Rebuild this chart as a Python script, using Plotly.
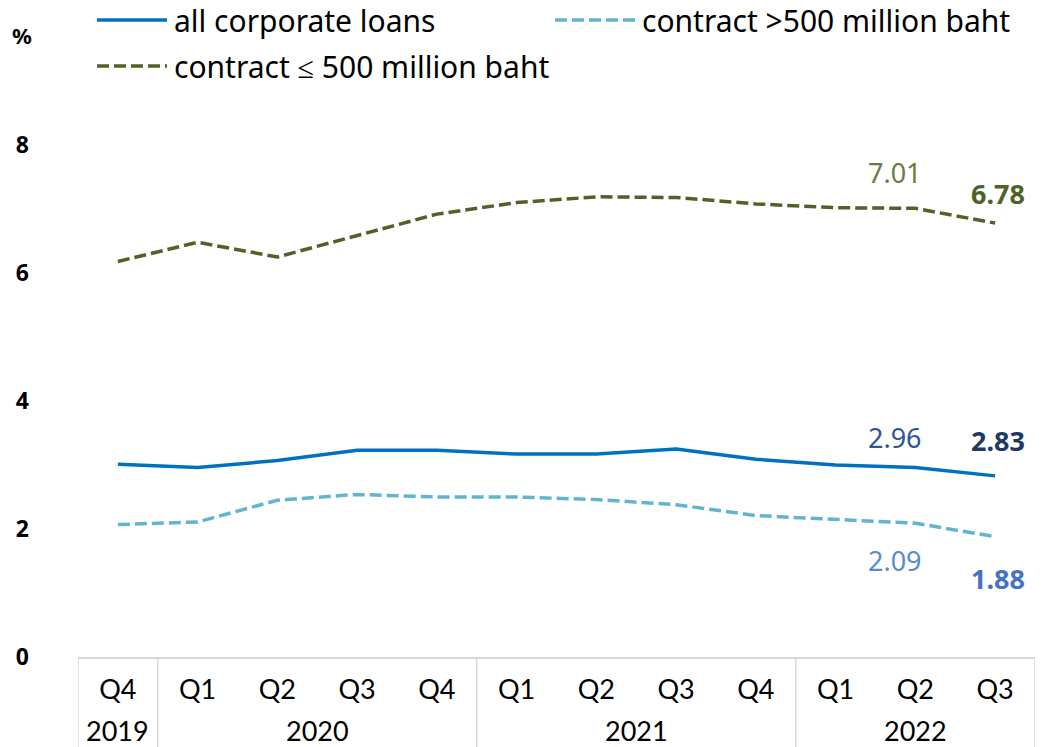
import plotly.graph_objects as go

years = ["2019", "2020", "2020", "2020", "2020", "2021", "2021", "2021", "2021", "2022", "2022", "2022"]
quarters = ["Q4", "Q1", "Q2", "Q3", "Q4", "Q1", "Q2", "Q3", "Q4", "Q1", "Q2", "Q3"]

all_loans = [3.01, 2.96, 3.07, 3.23, 3.23, 3.17, 3.17, 3.25, 3.09, 3.00, 2.96, 2.83]
large = [2.07, 2.11, 2.45, 2.54, 2.50, 2.50, 2.46, 2.38, 2.21, 2.15, 2.09, 1.88]
small = [6.18, 6.48, 6.25, 6.59, 6.92, 7.10, 7.19, 7.18, 7.08, 7.02, 7.01, 6.78]

names = ["all corporate loans", "contract >500 million baht", "contract \u2264 500 million baht"]
colors = ["#0070C0", "#62B5CF", "#4F6228"]
dashes = ["solid", "12px,5px", "12px,5px"]

W, H = 1043, 747
ML, MR, MT, MB = 78, 8, 145, 90
PW, PH = W - ML - MR, H - MT - MB


def px2paper(px, py):
    return (px - ML) / PW, (H - MB - py) / PH


xi = list(range(len(quarters)))

fig = go.Figure()
for series, nm, col, ds in zip([all_loans, large, small], names, colors, dashes):
    fig.add_trace(go.Scatter(x=xi, y=series, name=nm, mode="lines", showlegend=False,
                             line=dict(color=col, width=3.5, dash=ds)))

lab_font = "Noto Sans"
last = len(quarters) - 1
ann = [
    (last - 1, small[last - 1], "7.01", "#6B7B3F", False, -20, 36),
    (last, small[last], "6.78", "#4F6228", True, 3, 30),
    (last - 1, all_loans[last - 1], "2.96", "#2F5597", False, -20, 30),
    (last, all_loans[last], "2.83", "#1F3864", True, 3, 35),
    (last - 1, large[last - 1], "2.09", "#5B8BC9", False, -20, -37),
    (last, large[last], "1.88", "#4472C4", True, 3, -42),
]
for x0, yv, txt, col, bold, xs, ys in ann:
    fig.add_annotation(x=x0, y=yv, xref="x", yref="y", text=f"<b>{txt}</b>" if bold else txt,
                       showarrow=False, xshift=xs, yshift=ys, xanchor="center", yanchor="middle",
                       font=dict(family=lab_font, size=27, color=col))

# "%" unit label
ux, uy = px2paper(22, 35)
fig.add_annotation(x=ux, y=uy, xref="paper", yref="paper", text="<b>%</b>", showarrow=False,
                   xanchor="center", yanchor="middle",
                   font=dict(family=lab_font, size=22, color="black"))

# custom legend
leg_items = [(97, 167, 20, 172), (555, 635, 20, 640), (97, 167, 66, 172)]
for (lx0, lx1, ly, tx), nm, col, ds in zip(leg_items, names, colors, dashes):
    a0, b0 = px2paper(lx0, ly)
    a1, _ = px2paper(lx1, ly)
    fig.add_shape(type="line", xref="paper", yref="paper", x0=a0, x1=a1, y0=b0, y1=b0,
                  line=dict(color=col, width=3.5, dash=ds))
    ta, tb = px2paper(tx, ly)
    fig.add_annotation(x=ta, y=tb, xref="paper", yref="paper", text=nm, showarrow=False,
                       xanchor="left", yanchor="middle",
                       font=dict(family=lab_font, size=30, color="black"))

# year group labels and dividers
groups = []
for i, y in enumerate(years):
    if not groups or groups[-1][0] != y:
        groups.append([y, i, i])
    else:
        groups[-1][2] = i
_, ybot = px2paper(0, H)
_, ylab = px2paper(0, 730)
bounds = [groups[0][1] - 0.5] + [g[2] + 0.5 for g in groups]
for b in bounds:
    fig.add_shape(type="line", xref="x", yref="paper", x0=b, x1=b, y0=0, y1=ybot,
                  line=dict(color="#D9D9D9", width=1.5))
for y, i0, i1 in groups:
    fig.add_annotation(x=(i0 + i1) / 2, y=ylab, xref="x", yref="paper", text=y, showarrow=False,
                       xanchor="center", yanchor="middle",
                       font=dict(family="Lato", size=27, color="black"))

fig.update_layout(
    width=W, height=H,
    margin=dict(l=ML, r=MR, t=MT, b=MB),
    plot_bgcolor="white", paper_bgcolor="white",
    showlegend=False,
    xaxis=dict(range=[-0.5, last + 0.5], tickvals=xi, ticktext=quarters,
               showline=True, linecolor="#D9D9D9", linewidth=1.5,
               showgrid=False, zeroline=False, ticks="", ticklabelstandoff=8,
               tickfont=dict(family="Lato", size=27, color="black")),
    yaxis=dict(range=[0, 8], tickvals=[0, 2, 4, 6, 8], showgrid=False, zeroline=False,
               showline=False, ticks="", ticklabelstandoff=48,
               tickfont=dict(family=lab_font, size=23, color="black", weight="bold")),
)

fig.write_html("out.html")
